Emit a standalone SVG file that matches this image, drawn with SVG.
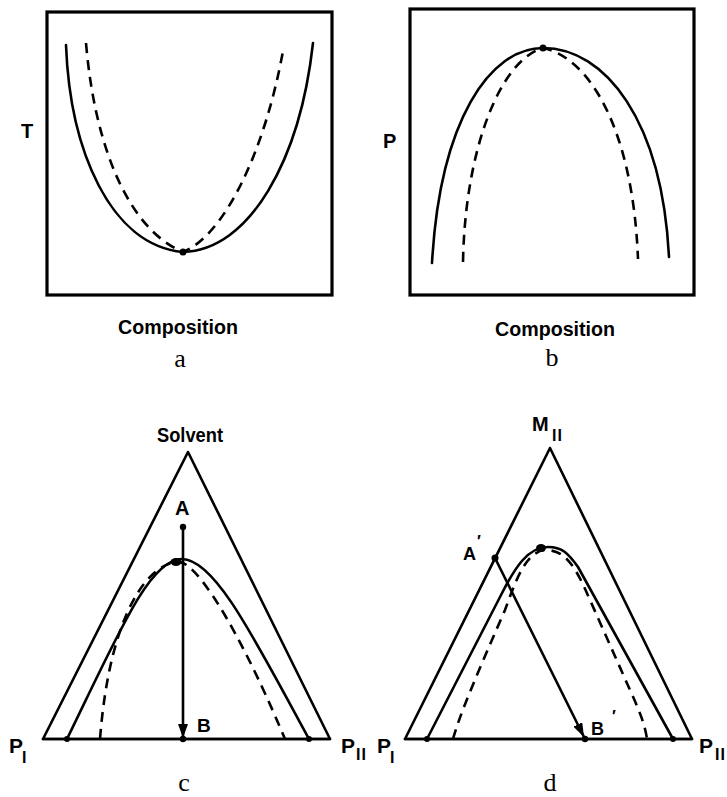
<svg xmlns="http://www.w3.org/2000/svg" width="727" height="797" viewBox="0 0 727 797">
<style>
.ln{fill:none;stroke:#000;stroke-width:2.6;stroke-linecap:round;stroke-linejoin:round}
.box{fill:none;stroke:#000;stroke-width:3.2}
.ds{fill:none;stroke:#000;stroke-width:2.6;stroke-dasharray:10 7}
.lb{font-family:"Liberation Sans","DejaVu Sans",sans-serif;font-weight:bold;fill:#000}
.cap{font-family:"Liberation Serif","DejaVu Serif",serif;font-size:26px;fill:#000;text-anchor:middle}
.dot{fill:#000}
</style>
<defs>
<marker id="ah" markerUnits="userSpaceOnUse" markerWidth="15" markerHeight="10" refX="14" refY="5" orient="auto">
<path d="M0,0 L14,5 L0,10 z" fill="#000"/>
</marker>
</defs>
<rect width="727" height="797" fill="#fff"/>

<g id="panel-a">
<rect class="box" x="47" y="12" width="285" height="283"/>
<path class="ln" d="M66,45 C70,150 110,245 183,252 C250,250 300,160 313,43"/>
<path class="ds" d="M86,43 C95,150 130,230 183,252 C225,235 265,150 283,51"/>
<circle class="dot" cx="183" cy="252" r="3.5"/>
<text class="lb" x="21" y="138" font-size="20">T</text>
<text class="lb" x="178" y="334" font-size="20" text-anchor="middle" textLength="120" lengthAdjust="spacingAndGlyphs">Composition</text>
<text class="cap" x="180" y="367">a</text>
</g>

<g id="panel-b">
<rect class="box" x="410" y="9" width="284" height="286"/>
<path class="ln" d="M432,263 C440,120 490,48 543,48 C605,48 662,120 669,257"/>
<path class="ds" d="M463,262 C465,150 500,60 543,48 C590,58 633,130 638,259"/>
<circle class="dot" cx="543" cy="48" r="3.5"/>
<text class="lb" x="383" y="148" font-size="20">P</text>
<text class="lb" x="555" y="336" font-size="20" text-anchor="middle" textLength="120" lengthAdjust="spacingAndGlyphs">Composition</text>
<text class="cap" x="552" y="366">b</text>
</g>

<g id="panel-c">
<path class="ln" d="M188,452 L43,739 L330,739 Z"/>
<line class="ln" x1="43" y1="739" x2="330" y2="739" stroke-width="3.2"/>
<path class="ln" d="M67,739 C120,630 150,559 182,559 C215,559 255,640 309,739"/>
<path class="ds" d="M100,739 C110,610 150,562 179,562 C195,562 235,620 285,739"/>
<ellipse class="dot" cx="176" cy="562" rx="5.5" ry="4"/>
<circle class="dot" cx="67" cy="739" r="3"/>
<circle class="dot" cx="309" cy="739" r="3"/>
<circle class="dot" cx="183" cy="739" r="3.2"/>
<circle class="dot" cx="183" cy="527" r="3.2"/>
<text class="lb" x="190" y="442" font-size="21" text-anchor="middle" textLength="66" lengthAdjust="spacingAndGlyphs">Solvent</text>
<text class="lb" x="175" y="515" font-size="20">A</text>
<text class="lb" x="197" y="732" font-size="19">B</text>
<text class="lb" x="9" y="753" font-size="21">P</text>
<text class="lb" x="22" y="763" font-size="16">I</text>
<text class="lb" x="341" y="753" font-size="21">P</text>
<text class="lb" x="356" y="760" font-size="16" letter-spacing="1">II</text>
<text class="cap" x="184" y="791">c</text>
</g>

<g id="panel-d">
<path class="ln" d="M550,448 L405,739 L692,739 Z"/>
<line class="ln" x1="405" y1="739" x2="692" y2="739" stroke-width="3.2"/>
<path class="ln" d="M427,739 L500,597 C515,567 528,547 548,547 C562,547 568,553 578,567 L673,739"/>
<path class="ds" d="M453,739 C460,715 470,690 505,610 C515,583 525,552 545,550 C565,550 575,565 590,600 L630,690 C640,712 645,725 647,739"/>
<ellipse class="dot" cx="541" cy="548" rx="5" ry="4"/>
<circle class="dot" cx="495" cy="558" r="3.5"/>
<circle class="dot" cx="427" cy="739" r="3"/>
<circle class="dot" cx="673" cy="739" r="3"/>
<circle class="dot" cx="585" cy="739" r="3.2"/>
<text class="lb" x="532" y="431" font-size="20">M</text>
<text class="lb" x="552" y="441" font-size="16" letter-spacing="1">II</text>
<text class="lb" x="463" y="560" font-size="18">A</text>
<text class="lb" x="477" y="547" font-size="16">′</text>
<text class="lb" x="591" y="735" font-size="18">B</text>
<text class="lb" x="612" y="722" font-size="16">′</text>
<text class="lb" x="377" y="753" font-size="21">P</text>
<text class="lb" x="390" y="763" font-size="16">I</text>
<text class="lb" x="699" y="753" font-size="21">P</text>
<text class="lb" x="715" y="760" font-size="16" letter-spacing="1">II</text>
<text class="cap" x="550" y="791">d</text>
</g>

<g id="connectors">
<line class="ln" x1="183" y1="527" x2="183" y2="738" marker-end="url(#ah)"/>
<line class="ln" x1="495" y1="558" x2="584" y2="737" marker-end="url(#ah)"/>
</g>
</svg>
